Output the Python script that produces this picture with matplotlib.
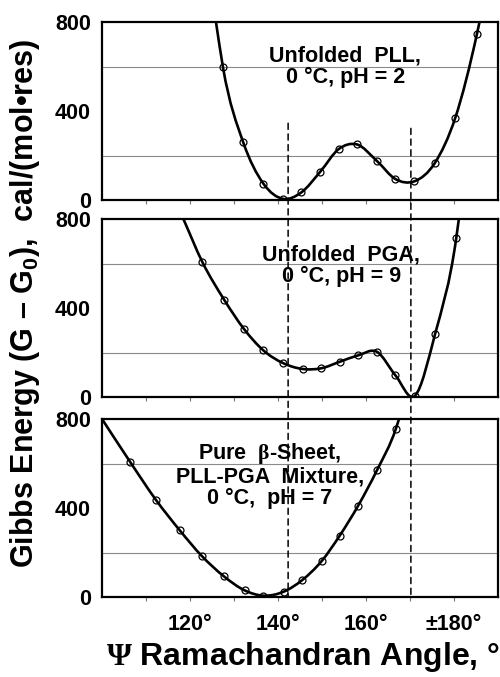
"""
Gibbs energy vs Psi Ramachandran angle for unfolded PLL, unfolded PGA and
the pure beta-sheet PLL-PGA mixture (three stacked panels).
"""

import numpy as np
import matplotlib
matplotlib.use("Agg")
import matplotlib.pyplot as plt
from matplotlib.path import Path
from matplotlib.patches import PathPatch, ConnectionPatch

plt.rcParams["font.family"] = "Liberation Sans"
plt.rcParams["font.weight"] = "bold"
plt.rcParams["mathtext.fontset"] = "custom"
plt.rcParams["mathtext.rm"] = "Liberation Sans:bold"
plt.rcParams["mathtext.bf"] = "Liberation Sans:bold"
plt.rcParams["mathtext.sf"] = "Liberation Serif"

# ---------------------------------------------------------------------------
# Data
# ---------------------------------------------------------------------------

# top: unfolded PLL, 0 C, pH 2
pll_psi = [127.5, 132.1, 136.7, 141.2, 145.3, 149.6, 153.8, 157.9, 162.5,
           166.7, 171.0, 175.6, 180.3, 185.2]
pll_g = [596, 259, 73, 5, 34, 127, 229, 250, 175, 94, 84, 165, 370, 745]
pll_curve_ends_psi = [125.9, 185.8]   # where the fitted curve leaves the frame
pll_curve_ends_g = [800, 800]

# middle: unfolded PGA, 0 C, pH 9
pga_psi = [122.8, 127.8, 132.3, 136.7, 141.2, 145.6, 149.8, 154.0, 158.2,
           162.5, 166.7, 171.1, 175.7, 180.5]
pga_g = [607, 436, 305, 209, 152, 126, 129, 158, 187, 203, 97, 5, 283, 713]
pga_curve_ends_psi = [118.5, 181.1]
pga_curve_ends_g = [800, 800]

# bottom: pure beta-sheet, PLL-PGA mixture, 0 C, pH 7
mix_psi = [106.4, 112.2, 117.7, 122.7, 127.7, 132.4, 136.7, 141.3, 145.5,
           149.9, 154.0, 158.2, 162.5, 166.8]
mix_g = [607, 438, 299, 184, 93, 30, 6, 24, 76, 161, 275, 410, 570, 757]
mix_curve_ends_psi = [100.0, 167.5]
mix_curve_ends_g = [800, 800]

# dashed reference lines (psi, energy where they start in the top panel)
ref_psi = [142.3, 170.2]
ref_top_g = [345, 322]

x_major = [120, 140, 160, 180]
x_minor = [110, 130, 150, 170]
x_labels = ["120°", "140°", "160°", "±180°"]
y_major = [0, 400, 800]
y_grid = [200, 400, 600]

panel_labels = [
    "Unfolded  PLL,\n0 °C, pH = 2",
    "Unfolded  PGA,\n0 °C, pH = 9",
    "Pure  $\\mathsf{\\beta}$-Sheet,\nPLL-PGA  Mixture,\n0 °C,  pH = 7",
]
label_pos = [(155.3, 600), (154.4, 590), (138.1, 548)]


def smooth_path(xs, ys):
    """Piecewise cubic Bezier through the knots (smoothed-line look)."""
    xs = np.asarray(xs, float)
    ys = np.asarray(ys, float)
    slope = np.gradient(ys, xs)
    verts = [(xs[0], ys[0])]
    codes = [Path.MOVETO]
    for i in range(len(xs) - 1):
        d = (xs[i + 1] - xs[i]) / 3
        verts += [(xs[i] + d, ys[i] + slope[i] * d),
                  (xs[i + 1] - d, ys[i + 1] - slope[i + 1] * d),
                  (xs[i + 1], ys[i + 1])]
        codes += [Path.CURVE4] * 3
    return Path(verts, codes)


fig = plt.figure(figsize=(5.0, 6.77), dpi=100)
W, H = 500, 677
left, right = 102, 498
panel_px = [(22, 200), (219, 397), (419, 597)]
axes = []
for top, bot in panel_px:
    axes.append(fig.add_axes([left / W, (H - bot) / H, (right - left) / W,
                              (bot - top) / H]))

series = [
    (pll_psi, pll_g, pll_curve_ends_psi, pll_curve_ends_g),
    (pga_psi, pga_g, pga_curve_ends_psi, pga_curve_ends_g),
    (mix_psi, mix_g, mix_curve_ends_psi, mix_curve_ends_g),
]

for i, (ax, (px, pg, ex, eg)) in enumerate(zip(axes, series)):
    ax.set_xlim(100, 190)
    ax.set_ylim(0, 800)

    ax.set_yticks(y_major)
    ax.set_yticks(y_grid, minor=True)
    ax.grid(axis="y", which="minor", color="#8a8a8a", lw=0.8)
    ax.tick_params(axis="y", which="both", length=0, pad=8, labelsize=15.5)

    ax.set_xticks(x_major)
    ax.set_xticks(x_minor, minor=True)
    ax.tick_params(axis="x", which="both", direction="out", length=3,
                   width=0.8, color="#777777", labelsize=15.5, pad=9)
    if i < 2:
        ax.set_xticklabels([])
    else:
        ax.set_xticklabels(x_labels)

    for sp in ax.spines.values():
        sp.set_linewidth(1.6)

    cx = [ex[0]] + list(px) + [ex[1]]
    cy = [eg[0]] + list(pg) + [eg[1]]
    ax.add_patch(PathPatch(smooth_path(cx, cy), fc="none", ec="black",
                           lw=1.9, zorder=3))
    ax.plot(px, pg, "o", ms=5, mfc="none", mec="black", mew=0.9, zorder=4)

    ax.text(label_pos[i][0], label_pos[i][1], panel_labels[i], ha="center",
            va="center", fontsize=15.5, fontweight="bold", linespacing=1.05,
            zorder=2)

for x, g in zip(ref_psi, ref_top_g):
    con = ConnectionPatch(xyA=(x, g), coordsA=axes[0].transData,
                          xyB=(x, 0), coordsB=axes[2].transData,
                          ls=(0, (4, 3)), lw=1.1, color="black", zorder=5)
    fig.add_artist(con)

fig.text(0.05, 0.552, "Gibbs Energy (G – G$_\\mathbf{0}$),  cal/(mol•res)",
         rotation=90, ha="center", va="center", fontsize=22, fontweight="bold")
fig.text(0.605, 0.030, "$\\mathsf{\\Psi}$ Ramachandran Angle, °",
         ha="center", va="center", fontsize=23, fontweight="bold")

fig.savefig("out.png", dpi=100)
